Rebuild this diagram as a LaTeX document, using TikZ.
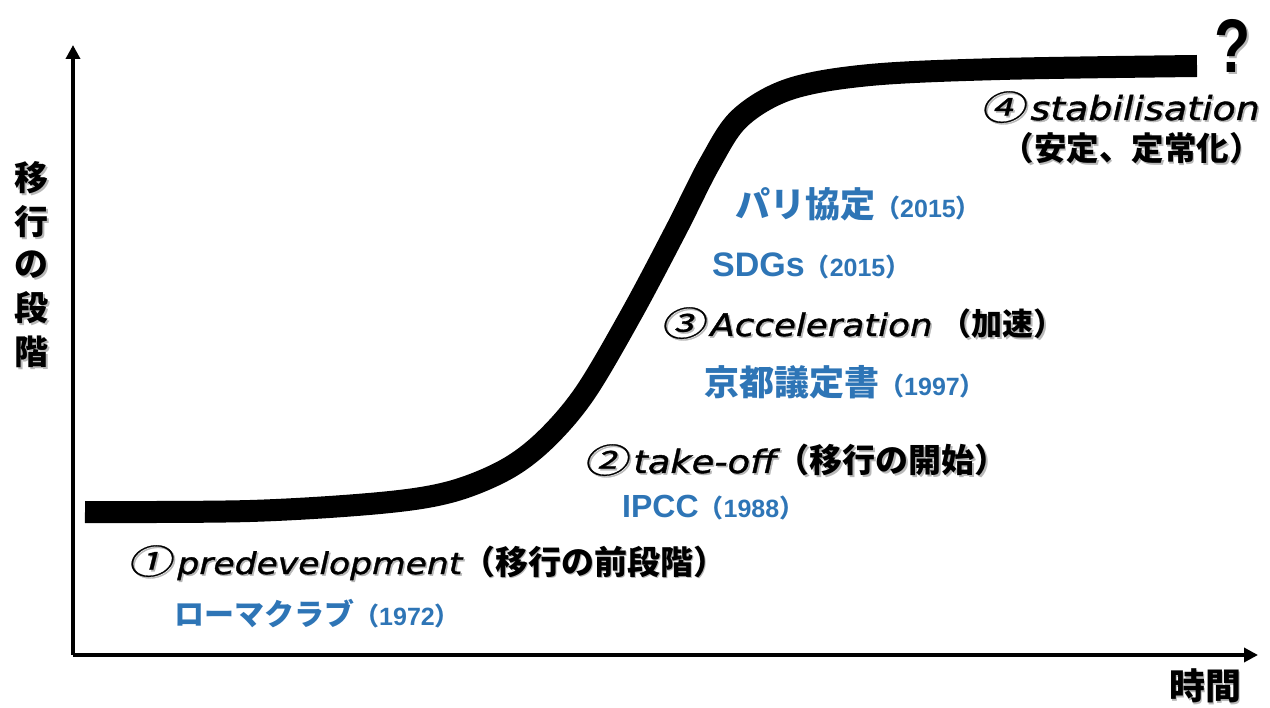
\documentclass[tikz,border=0pt]{standalone}
\usepackage{fontspec}
\setmainfont{Noto Sans}
\newfontfamily\cjk{Noto Sans CJK JP}
\newfontfamily\cjksl{Noto Sans CJK JP}[FakeSlant=0.25,FakeStretch=1.3,FakeBold=0.8]
\newfontfamily\itf{DejaVu Sans Oblique}[FakeStretch=1.15,FakeBold=1.2]
\newfontfamily\ari{Liberation Sans}
\usetikzlibrary{arrows.meta,calc}
\definecolor{tblue}{HTML}{2E75B6}
\newcommand\fs[1]{\fontsize{#1}{#1}\selectfont}
\newcommand\numc[1]{{\cjksl\fs{34}#1}\hspace{6pt}}
\newcommand\itl[2]{{\itf\fs{#1}#2}}
\newcommand\jb[2]{{\cjk\bfseries\fs{#1}#2}}
\newcommand\bl[2]{{\cjk\bfseries\fs{#1}#2}}
\newcommand\ba[2]{{\ari\bfseries\fs{#1}#2}}
\newcommand\yr[1]{{\cjk\bfseries\fs{25}（}{\ari\bfseries\fs{25}#1}{\cjk\bfseries\fs{25}）}}
% shadowed black text node: name, style, position, text
\newcommand\shnode[4]{%
  \node[#2, text=black!28] at ($(#3)+(1.6,1.6)$) {#4};
  \node[#2] (#1) at (#3) {#4};}
\begin{document}
\begin{tikzpicture}[x=1pt,y=-1pt,
  lbl/.style={inner sep=0pt, anchor=base west},
  lblr/.style={inner sep=0pt, anchor=base east},
  ctr/.style={inner sep=0pt, anchor=center},
  blue lbl/.style={lbl, text=tblue},
  axis/.style={line width=4pt, -{Triangle[width=14pt,length=14pt]}},
  curve/.style={line width=22pt, line cap=butt}]
\useasboundingbox (0,0) rectangle (1270,708);
% axes
\coordinate (O) at (73,655);
\coordinate (ytip) at (73,45);
\coordinate (xtip) at (1258,655);
\draw[axis] (O) -- (ytip);
\draw[axis] (O) -- (xtip);
% S-curve
\draw[curve] plot[smooth, tension=0.55] coordinates {(85,512) (250,511) (380,503) (450,492) (505,470) (545,440) (585,393) (632,313) (676,230) (710,163) (740,118) (790,89) (870,75) (1000,69) (1197,66)};
% axis labels
\shnode{ylab1}{ctr}{32,178}{\cjk\bfseries\fs{34}移}
\shnode{ylab2}{ctr}{32,222}{\cjk\bfseries\fs{34}行}
\shnode{ylab3}{ctr}{32,265}{\cjk\bfseries\fs{34}の}
\shnode{ylab4}{ctr}{32,308}{\cjk\bfseries\fs{34}段}
\shnode{ylab5}{ctr}{32,352}{\cjk\bfseries\fs{34}階}
\shnode{xlab}{ctr}{1205,686}{\cjk\bfseries\fs{36}時間}
% question mark
\shnode{q}{inner sep=0pt, anchor=base}{1233,73}{\scalebox{0.78}[1]{\ari\bfseries\fs{76}?}}
% stage 1
\shnode{s1}{lbl}{127,574}{\numc{①}\itl{30}{predevelopment}\jb{33}{（移行の前段階）}}
\node[blue lbl] (b1) at (174,625) {\bl{30}{ローマクラブ}\yr{1972}};
% stage 2
\shnode{s2}{lbl}{583,473}{\numc{②}\itl{32}{take-off}\jb{33}{（移行の開始）}}
\node[blue lbl] (b2) at (622,518) {\ba{32}{IPCC}\yr{1988}};
% stage 3
\shnode{s3}{lbl}{660,336}{\numc{③}\itl{31}{Acceleration}\hspace{8pt}\jb{31}{（加速）}}
\node[blue lbl] (b3) at (704,396) {\bl{35}{京都議定書}\yr{1997}};
\node[blue lbl] (b4) at (712,277) {\ba{34}{SDGs}\yr{2015}};
\node[blue lbl] (b5) at (735,218) {\bl{35}{パリ協定}\yr{2015}};
% stage 4
\shnode{s4}{lblr}{1260,120}{\numc{④}\itl{33}{stabilisation}}
\shnode{s4b}{lblr}{1262,161}{\jb{32.5}{（安定、定常化）}}
\end{tikzpicture}
\end{document}
